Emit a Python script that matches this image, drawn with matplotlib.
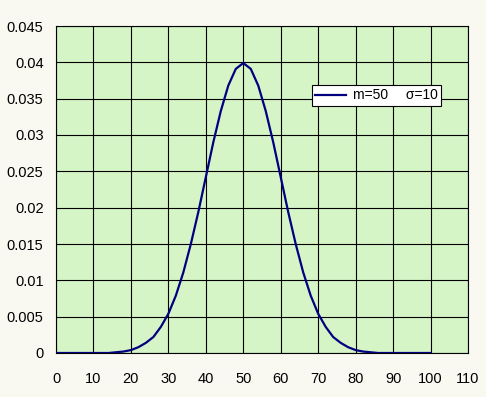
import matplotlib
matplotlib.use("Agg")
import matplotlib.pyplot as plt

x_values = [0, 2, 4, 6, 8, 10, 12, 14, 16, 18, 20, 22, 24, 26, 28, 30, 32, 34, 36, 38, 40,
            42, 44, 46, 48, 50, 52, 54, 56, 58, 60, 62, 64, 66, 68, 70, 72, 74, 76, 78, 80,
            82, 84, 86, 88, 90, 92, 94, 96, 98, 100]
y_values = [0.0000, 0.0000, 0.0000, 0.0000, 0.0000, 0.0000, 0.0000, 0.0000, 0.0001, 0.0002, 0.0004,
            0.0008, 0.0014, 0.0022, 0.0036, 0.0054, 0.0079, 0.0111, 0.0150, 0.0194, 0.0242,
            0.0290, 0.0333, 0.0368, 0.0391, 0.0399, 0.0391, 0.0368, 0.0333, 0.0290, 0.0242,
            0.0194, 0.0150, 0.0111, 0.0079, 0.0054, 0.0036, 0.0022, 0.0014, 0.0008, 0.0004,
            0.0002, 0.0001, 0.0000, 0.0000, 0.0000, 0.0000, 0.0000, 0.0000, 0.0000, 0.0000]
series_label = "m=50\u3000 \u03c3=10"
x_ticks = [0, 10, 20, 30, 40, 50, 60, 70, 80, 90, 100, 110]
y_ticks = [0, 0.005, 0.01, 0.015, 0.02, 0.025, 0.03, 0.035, 0.04, 0.045]
y_tick_labels = ["0", "0.005", "0.01", "0.015", "0.02", "0.025", "0.03", "0.035", "0.04", "0.045"]

plt.rcParams['font.family'] = ['Liberation Sans', 'Noto Sans CJK JP', 'DejaVu Sans']

fig = plt.figure(figsize=(4.86, 3.97), dpi=100, facecolor='#f9f9f2')
ax = fig.add_axes([56/486, 44/397, 412/486, 327/397])
ax.set_facecolor('#d6f5c6')
ax.plot(x_values, y_values, color='#000080', lw=1.6, label=series_label, zorder=3)
ax.set_xlim(0, 110)
ax.set_ylim(0, 0.045)
ax.set_xticks(x_ticks)
ax.set_xticklabels([str(t) for t in x_ticks])
ax.set_yticks(y_ticks)
ax.set_yticklabels(y_tick_labels)
ax.grid(True, color='black', lw=0.8, zorder=1)
ax.set_axisbelow(True)
for s in ax.spines.values():
    s.set_color('black')
    s.set_linewidth(0.8)
ax.tick_params(length=0, labelsize=10.5)
ax.tick_params(axis='x', pad=14)
ax.tick_params(axis='y', pad=9)
leg = ax.legend(loc='upper left', bbox_to_anchor=((312-56)/412, (353-85)/327),
                frameon=True, fancybox=False, fontsize=10, handlelength=2.2,
                borderpad=0.25, handletextpad=0.5, borderaxespad=0)
leg.get_frame().set_edgecolor('black')
leg.get_frame().set_linewidth(0.8)
leg.get_frame().set_facecolor('white')
leg.get_frame().set_alpha(1)
fig.savefig('out.png', dpi=100, facecolor=fig.get_facecolor())
